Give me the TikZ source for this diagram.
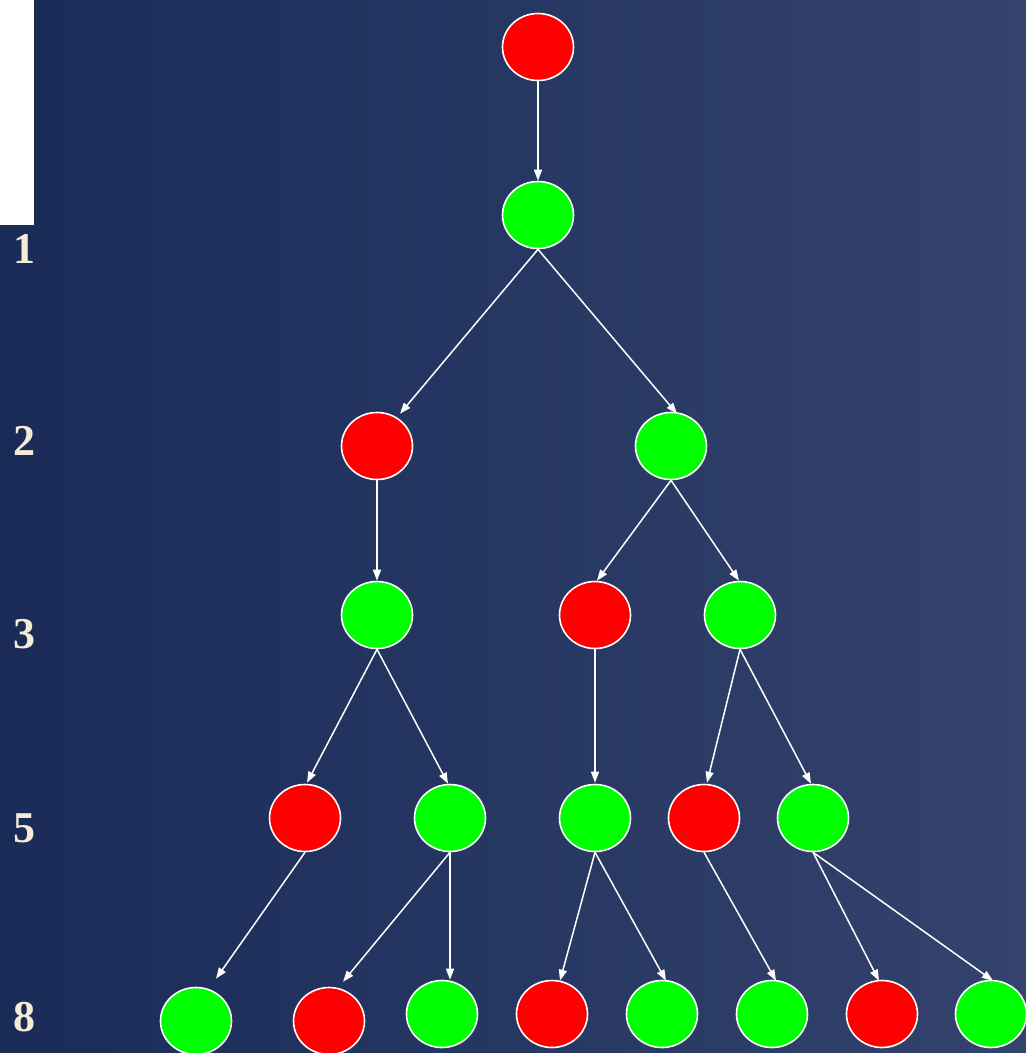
\documentclass[tikz,border=0pt]{standalone}
\usepackage{fontspec}
\setmainfont{Liberation Serif}
\usetikzlibrary{arrows.meta,calc}
\definecolor{bgleft}{RGB}{26,43,88}
\definecolor{bgright}{RGB}{51,67,109}
\definecolor{labcol}{RGB}{245,236,214}
\definecolor{nred}{RGB}{255,0,0}
\definecolor{ngreen}{RGB}{0,255,0}
\tikzset{
  vert/.style={ellipse, draw=white, line width=1.6pt, minimum width=71pt, minimum height=67pt, inner sep=0pt},
  rv/.style={vert, fill=nred},
  gv/.style={vert, fill=ngreen},
  edge/.style={draw=white, line width=1.5pt, -{Triangle[length=11pt,width=8pt]}},
  lvl/.style={text=labcol, font=\bfseries\fontsize{44}{44}\selectfont, anchor=center}
}
\usetikzlibrary{shapes.geometric}
\begin{document}
\begin{tikzpicture}[x=1pt,y=-1pt]
\shade[left color=bgleft, right color=bgright] (0,0) rectangle (1026,1053);
\useasboundingbox (0,0) rectangle (1026,1053);
\fill[white] (0,0) rectangle (34,225);
% level labels
\node[lvl] (l1) at (24,249) {1};
\node[lvl] (l2) at (24,441) {2};
\node[lvl] (l3) at (24,634) {3};
\node[lvl] (l5) at (24,828) {5};
\node[lvl] (l8) at (24,1017) {8};
% nodes
\node[rv] (a) at (538,47) {};
\node[gv] (b) at (538,215) {};
\node[rv] (c1) at (377,446) {};
\node[gv] (c2) at (671,446) {};
\node[gv] (d1) at (377,615) {};
\node[rv] (d2) at (595,615) {};
\node[gv] (d3) at (740,615) {};
\node[rv] (e1) at (305,818) {};
\node[gv] (e2) at (450,818) {};
\node[gv] (e3) at (595,818) {};
\node[rv] (e4) at (704,818) {};
\node[gv] (e5) at (813,818) {};
\node[gv] (f1) at (196,1021) {};
\node[rv] (f2) at (329,1021) {};
\node[gv] (f3) at (442,1014) {};
\node[rv] (f4) at (552,1014) {};
\node[gv] (f5) at (662,1014) {};
\node[gv] (f6) at (772,1014) {};
\node[rv] (f7) at (882,1014) {};
\node[gv] (f8) at (991,1014) {};
% edges
\draw[edge] (a.south) -- (b.north);
\draw[edge] (b.south) -- ($(c1.north)+(23,2)$);
\draw[edge] (b.south) -- ($(c2.north)+(6,2)$);
\draw[edge] (c1.south) -- (d1.north);
\draw[edge] (c2.south) -- ($(d2.north)+(2,0)$);
\draw[edge] (c2.south) -- ($(d3.north)+(-1,0)$);
\draw[edge] (d1.south) -- ($(e1.north)+(2,-1)$);
\draw[edge] (d1.south) -- ($(e2.north)+(-2,0)$);
\draw[edge] (d2.south) -- ($(e3.north)+(0,-1)$);
\draw[edge] (d3.south) -- ($(e4.north)+(3,-1)$);
\draw[edge] (d3.south) -- ($(e5.north)+(-2,0)$);
\draw[edge] (e1.south) -- ($(f1.north)+(20,-8)$);
\draw[edge] (e2.south) -- ($(f2.north)+(14,-5)$);
\draw[edge] (e2.south) -- ($(f3.north)+(8,0)$);
\draw[edge] (e3.south) -- ($(f4.north)+(8,1)$);
\draw[edge] (e3.south) -- ($(f5.north)+(4,1)$);
\draw[edge] (e4.south) -- ($(f6.north)+(4,1)$);
\draw[edge] (e5.south) -- ($(f7.north)+(-3,1)$);
\draw[edge] (e5.south) -- ($(f8.north)+(2,1)$);
\end{tikzpicture}
\end{document}
